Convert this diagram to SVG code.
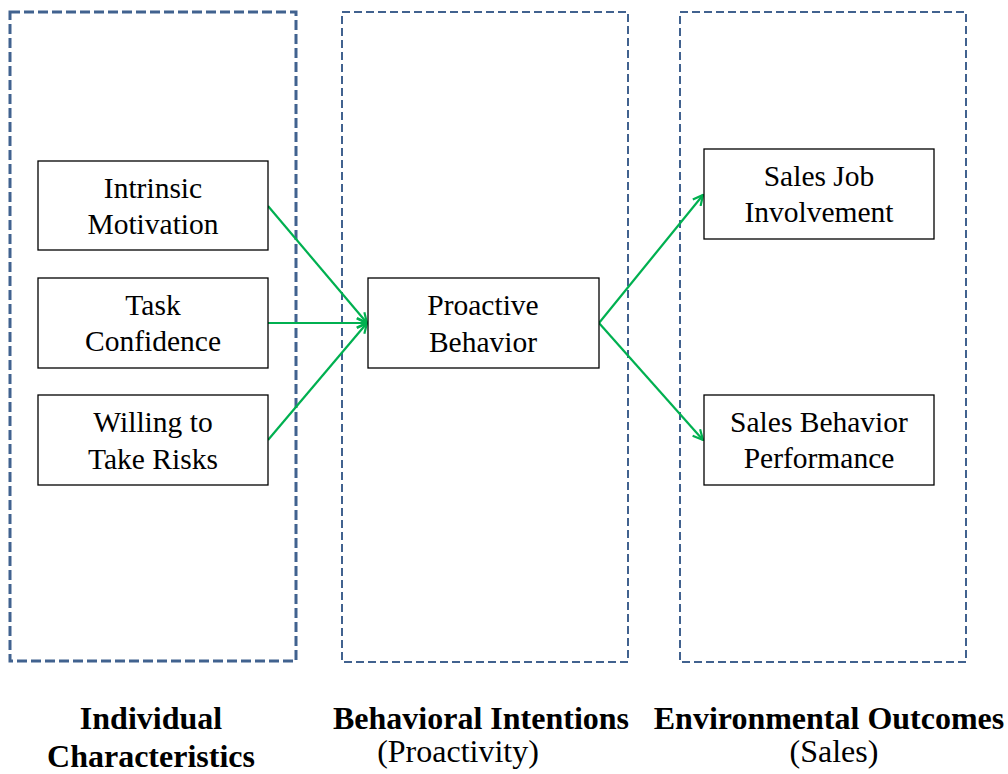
<svg xmlns="http://www.w3.org/2000/svg" width="1008" height="774" viewBox="0 0 1008 774">
  <style>
    .frame { fill: none; stroke: #41628F; }
    .node rect { fill: #ffffff; stroke: #000000; stroke-width: 1.3; }
    .node text, .caption { font-family: "Liberation Serif", "Times New Roman", serif; fill: #000000; text-anchor: middle; }
    .node text { font-size: 29.5px; }
    .caption { font-size: 32px; }
    .caption.b { font-weight: bold; }
    .link { stroke: #00B050; stroke-width: 2.2; fill: none; marker-end: url(#arrow); }
  </style>
  <defs>
    <marker id="arrow" viewBox="0 0 12 12" refX="11" refY="6" markerWidth="12" markerHeight="12" markerUnits="userSpaceOnUse" orient="auto">
      <path d="M1 1 L11 6 L1 11" fill="none" stroke="#00B050" stroke-width="2.2"/>
    </marker>
  </defs>
  <rect width="1008" height="774" fill="#ffffff"/>

  <!-- stage frames -->
  <g id="frames">
    <rect class="frame" x="10" y="12" width="286" height="649" stroke-width="3" stroke-dasharray="10 4"/>
    <rect class="frame" x="342" y="12" width="286" height="650" stroke-width="2" stroke-dasharray="8 4"/>
    <rect class="frame" x="680" y="12" width="286" height="650" stroke-width="2" stroke-dasharray="8 4"/>
  </g>

  <!-- connectors -->
  <g id="connectors">
    <line class="link" x1="268" y1="206" x2="367" y2="323"/>
    <line class="link" x1="268" y1="323" x2="367" y2="323"/>
    <line class="link" x1="268" y1="440" x2="367" y2="323"/>
    <line class="link" x1="599" y1="323" x2="703" y2="195"/>
    <line class="link" x1="599" y1="323" x2="703" y2="440"/>
  </g>

  <g id="intrinsic-motivation" class="node">
    <rect x="38" y="161" width="230" height="89"/>
    <text x="153" y="198">Intrinsic</text>
    <text x="153" y="234">Motivation</text>
  </g>
  <g id="task-confidence" class="node">
    <rect x="38" y="278" width="230" height="90"/>
    <text x="153" y="315">Task</text>
    <text x="153" y="351">Confidence</text>
  </g>
  <g id="willing-to-take-risks" class="node">
    <rect x="38" y="395" width="230" height="90"/>
    <text x="153" y="432">Willing to</text>
    <text x="153" y="469">Take Risks</text>
  </g>
  <g id="proactive-behavior" class="node">
    <rect x="368" y="278" width="231" height="90"/>
    <text x="483" y="315">Proactive</text>
    <text x="483" y="352">Behavior</text>
  </g>
  <g id="sales-job-involvement" class="node">
    <rect x="704" y="149" width="230" height="90"/>
    <text x="819" y="186">Sales Job</text>
    <text x="819" y="222">Involvement</text>
  </g>
  <g id="sales-behavior-performance" class="node">
    <rect x="704" y="395" width="230" height="90"/>
    <text x="819" y="432">Sales Behavior</text>
    <text x="819" y="468">Performance</text>
  </g>

  <!-- stage captions -->
  <g id="captions">
    <text class="caption b" x="151" y="729">Individual</text>
    <text class="caption b" x="151" y="767">Characteristics</text>
    <text class="caption b" x="481" y="729">Behavioral Intentions</text>
    <text class="caption" x="458" y="762">(Proactivity)</text>
    <text class="caption b" x="829" y="729">Environmental Outcomes</text>
    <text class="caption" x="834" y="762">(Sales)</text>
  </g>
</svg>
